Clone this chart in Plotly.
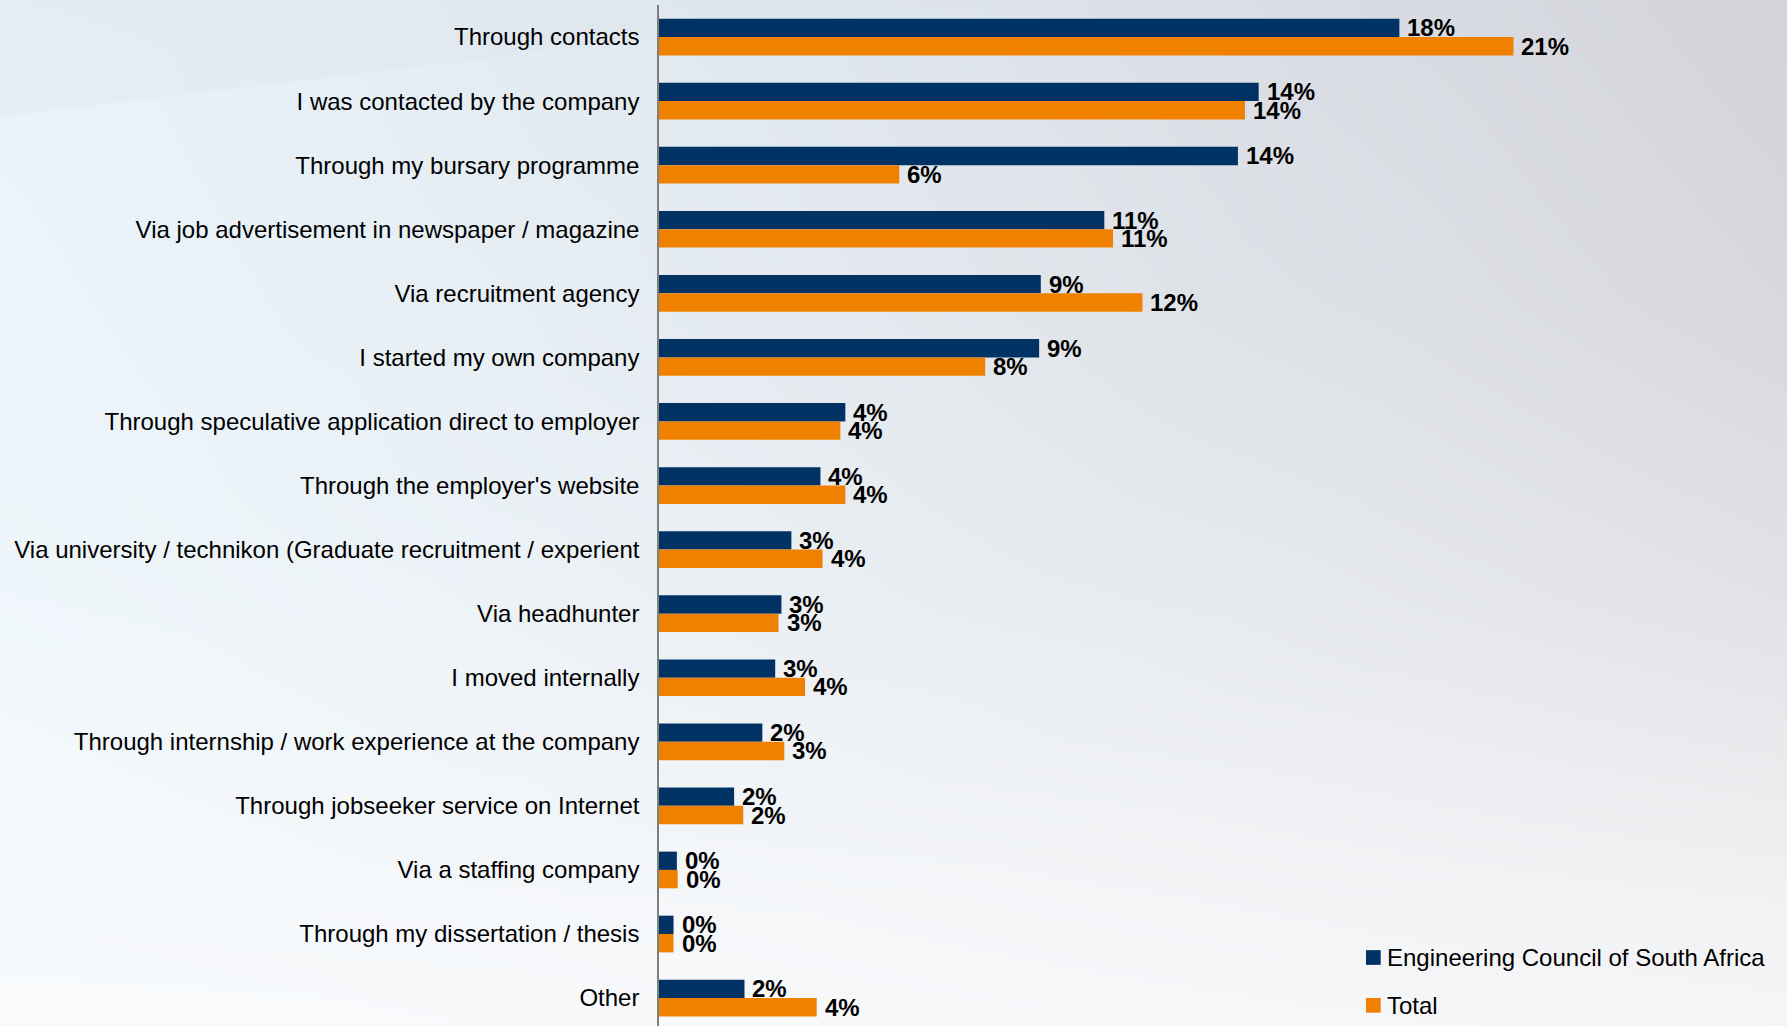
import base64
import struct
import zlib

import numpy as np
import plotly.graph_objects as go

# ---- data -----------------------------------------------------------------
categories = [
    "Through contacts",
    "I was contacted by the company",
    "Through my bursary programme",
    "Via job advertisement in newspaper / magazine",
    "Via recruitment agency",
    "I started my own company",
    "Through speculative application direct to employer",
    "Through the employer's website",
    "Via university / technikon (Graduate recruitment / experient",
    "Via headhunter",
    "I moved internally",
    "Through internship / work experience at the company",
    "Through jobseeker service on Internet",
    "Via a staffing company",
    "Through my dissertation / thesis",
    "Other",
]
series_names = ["Engineering Council of South Africa", "Total"]
ecsa = [17.84, 14.45, 13.95, 10.73, 9.20, 9.16, 4.49, 3.89, 3.19, 2.95, 2.80, 2.49, 1.81, 0.43, 0.35, 2.06]
total = [20.59, 14.12, 5.79, 10.94, 11.65, 7.86, 4.37, 4.49, 3.94, 2.88, 3.52, 3.02, 2.03, 0.45, 0.35, 3.80]
series_values = [ecsa, total]
series_colors = ["#003263", "#f08000"]

# ---- page geometry --------------------------------------------------------
W, H = 1787, 1026
ML, MR, MT, MB = 659, 0, 5, 0
PW, PH = W - ML - MR, H - MT - MB
PX_PER_PCT = 41.5
BARGAP = 0.427
ROW_PX = 64.07
FONT = "Liberation Sans, Arial, sans-serif"


def px_to_paper_x(px):
    return (px - ML) / PW


def px_to_paper_y(py):
    return 1 - (py - MT) / PH


# ---- soft background gradient, rendered to a small PNG ---------------------
def make_background(w, h):
    ys = np.linspace(0, H, h)[:, None]
    xs = np.linspace(0, W, w)[None, :]
    left_stops_y = [0, 500, 1026]
    left_cols = np.array([[232, 243, 250], [238, 246, 251], [249, 251, 253]], float)
    right_stops_y = [0, 300, 600, 900, 1026]
    right_cols = np.array([[211, 212, 218], [216, 217, 222], [226, 227, 231],
                           [242, 242, 244], [246, 246, 248]], float)
    yv = ys[:, 0]
    left = np.stack([np.interp(yv, left_stops_y, left_cols[:, c]) for c in range(3)], -1)
    right = np.stack([np.interp(yv, right_stops_y, right_cols[:, c]) for c in range(3)], -1)
    tx = (xs / W) ** 1.2
    img = left[:, None, :] * (1 - tx[..., None]) + right[:, None, :] * tx[..., None]
    # faint diagonal sweep in the upper-left corner
    edge = 117 - 0.119 * xs
    above = np.clip((edge - ys) / 4.0, 0, 1)
    fade = np.clip(1 - xs / 1100.0, 0, 1)
    delta = np.array([-4, -6, -5], float)
    img = img + (above * fade)[..., None] * delta
    return np.clip(img, 0, 255).astype(np.uint8)


def png_data_uri(arr):
    h, w, _ = arr.shape
    raw = b"".join(b"\x00" + arr[y].tobytes() for y in range(h))

    def chunk(tag, data):
        c = struct.pack(">I", len(data)) + tag + data
        return c + struct.pack(">I", zlib.crc32(tag + data) & 0xFFFFFFFF)

    png = (b"\x89PNG\r\n\x1a\n"
           + chunk(b"IHDR", struct.pack(">IIBBBBB", w, h, 8, 2, 0, 0, 0))
           + chunk(b"IDAT", zlib.compress(raw, 9))
           + chunk(b"IEND", b""))
    return "data:image/png;base64," + base64.b64encode(png).decode()


bg_uri = png_data_uri(make_background(W // 2, H // 2))

# ---- figure ---------------------------------------------------------------
fig = go.Figure()
for name, vals, color in zip(series_names, series_values, series_colors):
    fig.add_trace(go.Bar(
        y=categories, x=vals, name=name, orientation="h",
        marker=dict(color=color, line=dict(width=0)),
        showlegend=False, hoverinfo="x+y",
    ))

# value labels beside each bar
bar_half = ROW_PX * (1 - BARGAP) / 4
annotations = []
for k, vals in enumerate(series_values):
    shift = bar_half if k == 0 else -bar_half
    for cat, v in zip(categories, vals):
        annotations.append(dict(
            x=v, y=cat, xref="x", yref="y", text=f"{v:.0f}%",
            showarrow=False, xanchor="left", yanchor="middle",
            xshift=6, yshift=shift,
            font=dict(family=FONT, size=24, color="#000000", weight="bold"),
        ))

# legend, bottom right
legend_rows_py = [957.5, 1005.3]
shapes = []
for name, color, cy in zip(series_names, series_colors, legend_rows_py):
    shapes.append(dict(
        type="rect", xref="paper", yref="paper",
        x0=px_to_paper_x(1366), x1=px_to_paper_x(1380.7),
        y0=px_to_paper_y(cy - 7.35), y1=px_to_paper_y(cy + 7.35),
        fillcolor=color, line=dict(width=0), layer="above",
    ))
    annotations.append(dict(
        x=px_to_paper_x(1385), y=px_to_paper_y(cy), xref="paper", yref="paper",
        text=name, showarrow=False, xanchor="left", yanchor="middle",
        font=dict(family=FONT, size=24, color="#000000"),
    ))

x_max = PW / PX_PER_PCT
y_bottom = PH / ROW_PX - 0.5
fig.update_layout(
    width=W, height=H,
    margin=dict(l=ML, r=MR, t=MT, b=MB, pad=0),
    paper_bgcolor="#eef3f8", plot_bgcolor="rgba(0,0,0,0)",
    barmode="group", bargap=BARGAP, bargroupgap=0,
    showlegend=False,
    font=dict(family=FONT, color="#000000"),
    xaxis=dict(range=[0, x_max], autorange=False, visible=False, fixedrange=True),
    yaxis=dict(
        type="category", range=[y_bottom, -0.5],
        autorange=False, automargin=False,
        showline=True, linecolor="#7f7f7f", linewidth=1.5,
        showgrid=False, zeroline=False, ticks="",
        ticklabelstandoff=13,
        tickfont=dict(family=FONT, size=24, color="#000000"),
    ),
    images=[dict(
        source=bg_uri, xref="paper", yref="paper",
        x=-ML / PW, y=1 + MT / PH, sizex=W / PW, sizey=H / PH,
        xanchor="left", yanchor="top", sizing="stretch", layer="below",
    )],
    annotations=annotations,
    shapes=shapes,
)

fig.write_html("out.html")
